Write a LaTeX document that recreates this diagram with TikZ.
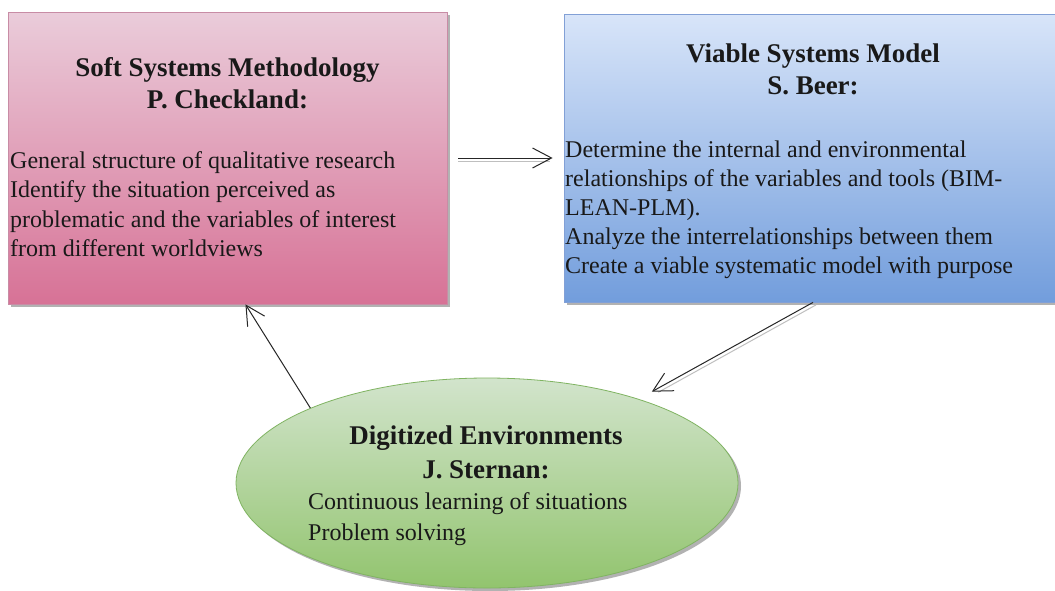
\documentclass[tikz,border=0pt]{standalone}
\usepackage{fontspec}
\setmainfont{Liberation Serif}
\usetikzlibrary{arrows.meta,shadows,calc,shapes.geometric}
\definecolor{pinktop}{RGB}{234,204,218}
\definecolor{pinkbot}{RGB}{215,114,150}
\definecolor{pinkline}{RGB}{200,140,165}
\definecolor{bluetop}{RGB}{216,229,249}
\definecolor{bluebot}{RGB}{114,157,220}
\definecolor{blueline}{RGB}{130,160,214}
\definecolor{greentop}{RGB}{210,228,204}
\definecolor{greenbot}{RGB}{146,196,110}
\definecolor{greenline}{RGB}{128,180,98}
\definecolor{shadowgray}{RGB}{178,178,178}
\definecolor{txt}{RGB}{25,25,25}
\newcommand{\titlefont}{\fontsize{27}{32}\selectfont\bfseries}
\newcommand{\bodyfont}{\fontsize{24}{29.5}\selectfont}
\tikzset{
  boxshape/.style={rectangle, line width=0.8pt, inner sep=0pt,
    drop shadow={shadow xshift=3pt, shadow yshift=-3pt, fill=shadowgray, opacity=1}},
  pinkbox/.style={boxshape, draw=pinkline, top color=pinktop, bottom color=pinkbot},
  bluebox/.style={boxshape, draw=blueline, top color=bluetop, bottom color=bluebot},
  greenell/.style={ellipse, line width=0.8pt, inner sep=0pt, draw=greenline,
    top color=greentop, bottom color=greenbot,
    drop shadow={shadow xshift=3pt, shadow yshift=-3pt, fill=shadowgray, opacity=1}},
  titletext/.style={inner sep=0pt, text=txt, font=\titlefont, anchor=base},
  bodytext/.style={inner sep=0pt, text=txt, font=\bodyfont, anchor=base west},
  conn/.style={line width=1pt, draw=black!85, -{Straight Barb[length=19pt,width=20pt,line width=1pt]}},
  connshadow/.style={line width=1pt, draw=black!25},
}
\begin{document}
\begin{tikzpicture}[x=1pt,y=-1pt]
\clip (0,0) rectangle (1055,590);
\fill[white] (0,0) rectangle (1055,590);
% boxes
\node[pinkbox, minimum width=439pt, minimum height=292pt] (ssm) at (227.5,158) {};
\node[bluebox, minimum width=498pt, minimum height=288pt] (vsm) at (813,158) {};
\node[greenell, minimum width=502pt, minimum height=210pt] (de) at (487,483) {};
% texts
\node[titletext] (ssmt) at (227.5,76) {\begin{tabular}[t]{@{}c@{}}Soft Systems Methodology\\P. Checkland:\end{tabular}};
\node[bodytext] (ssmb) at (10,168) {\begin{tabular}[t]{@{}l@{}}General structure of qualitative research\\Identify the situation perceived as\\problematic and the variables of interest\\from different worldviews\end{tabular}};
\node[titletext] (vsmt) at (813,62) {\begin{tabular}[t]{@{}c@{}}Viable Systems Model\\S. Beer:\end{tabular}};
\node[bodytext] (vsmb) at (565,157) {\fontsize{24}{29.2}\selectfont\begin{tabular}[t]{@{}l@{}}Determine the internal and environmental\\relationships of the variables and tools (BIM-\\LEAN-PLM).\\Analyze the interrelationships between them\\Create a viable systematic model with purpose\end{tabular}};
\node[titletext] (det) at (486,444) {\fontsize{27}{34}\selectfont\begin{tabular}[t]{@{}c@{}}Digitized Environments\\J. Sternan:\end{tabular}};
\node[bodytext] (deb) at (308,509) {\fontsize{24}{31}\selectfont\begin{tabular}[t]{@{}l@{}}Continuous learning of situations\\Problem solving\end{tabular}};
% connectors
\draw[connshadow, shorten <=11pt, shorten >=14pt] ([yshift=-3.5pt]ssm.east) -- ([yshift=-3.5pt]vsm.west);
\draw[conn, shorten <=11pt, shorten >=11pt] (ssm.east) -- (vsm.west);
\path (vsm.south) -- (de) coordinate[pos=1] (deb2);
\coordinate (tip2) at ($(deb2)!15pt!(vsm.south)$);
\draw[connshadow, shorten >=4pt] ([xshift=3pt,yshift=-2.5pt]vsm.south) -- ([xshift=3pt,yshift=-2.5pt]tip2);
\draw[conn] (vsm.south) -- (tip2);
\draw[conn] (de.157.4) -- (ssm.-83.9);
\end{tikzpicture}
\end{document}
